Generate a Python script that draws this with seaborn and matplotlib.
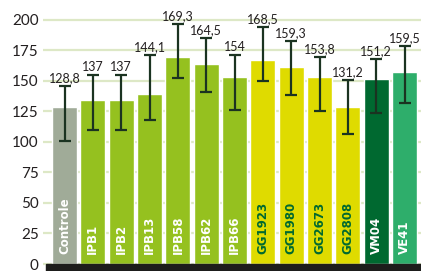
import pandas as pd
import seaborn as sns
import matplotlib.pyplot as plt

# dados
cultivares = ['Controle', 'IPB1', 'IPB2', 'IPB13', 'IPB58', 'IPB62', 'IPB66',
              'GG1923', 'GG1980', 'GG2673', 'GG2808', 'VM04', 'VE41']
alturas = [128.4, 134.5, 134.5, 138.8, 169.2, 163.6, 153.3,
           167.2, 160.8, 153.3, 128.4, 151.1, 157.5]
rotulos = ['128,8', '137', '137', '144,1', '169,3', '164,5', '154',
           '168,5', '159,3', '153,8', '131,2', '151,2', '159,5']
erro_sup = [145.7, 154.8, 154.8, 170.8, 196.6, 184.7, 170.8,
            194.3, 182.8, 169.4, 150.6, 167.8, 178.4]
erro_inf = [100.8, 110.0, 110.0, 117.8, 152.0, 140.5, 126.0,
            150.0, 138.5, 125.0, 106.0, 123.3, 132.0]
grupos = ['ctrl'] + ['ipb'] * 6 + ['gg'] * 4 + ['vm', 've']

cores = {'ctrl': '#a0ab98', 'ipb': '#95c11f', 'gg': '#dfdb00',
         'vm': '#006930', 've': '#2eae6b'}
cor_texto = {'ctrl': 'white', 'ipb': 'white', 'gg': '#006930',
             'vm': 'white', 've': 'white'}

df = pd.DataFrame({'cultivar': cultivares, 'altura': alturas})

sns.set_style('white')
plt.rcParams['font.family'] = ['Lato', 'DejaVu Sans']

fig = plt.figure(figsize=(4.21, 2.71), dpi=100)
ax = fig.add_axes([43 / 421, 0, 378 / 421, 1])

sns.barplot(data=df, x='cultivar', y='altura', hue='cultivar',
            palette=[cores[g] for g in grupos], width=0.88, saturation=1,
            legend=False, ax=ax, zorder=2)

ax.set_ylim(-5.7, 216)
ax.set_xlim(-0.76, 12.58)
ax.set_yticks(range(0, 201, 25))
for v in range(0, 201, 25):
    ax.axhline(v, color='#dde8c6', lw=1.6, zorder=0)
ax.axhspan(-5.7, 0, xmin=0.008, xmax=1, color='#1d1d1b', zorder=3)

pos = list(range(len(cultivares)))
baixo = [a - b for a, b in zip(alturas, erro_inf)]
cima = [b - a for a, b in zip(alturas, erro_sup)]
ax.errorbar(pos, alturas, yerr=[baixo, cima], fmt='none', ecolor='#1b3321',
            elinewidth=1.6, capsize=4, capthick=1.6, zorder=4)

for i, nome in enumerate(cultivares):
    ax.text(i, erro_sup[i] + 1.5, rotulos[i], ha='center', va='bottom',
            fontsize=9, color='#231f20')
    ax.text(i, 8, nome, rotation=90, ha='center', va='bottom',
            fontsize=8.5, fontweight='bold', color=cor_texto[grupos[i]],
            family='DejaVu Sans')

ax.set_xlabel('')
ax.set_ylabel('')
ax.set_xticks([])
ax.tick_params(axis='y', length=0, pad=3, labelsize=11, labelcolor='#231f20')
sns.despine(ax=ax, left=True, bottom=True)

fig.savefig('out.png', dpi=100)
